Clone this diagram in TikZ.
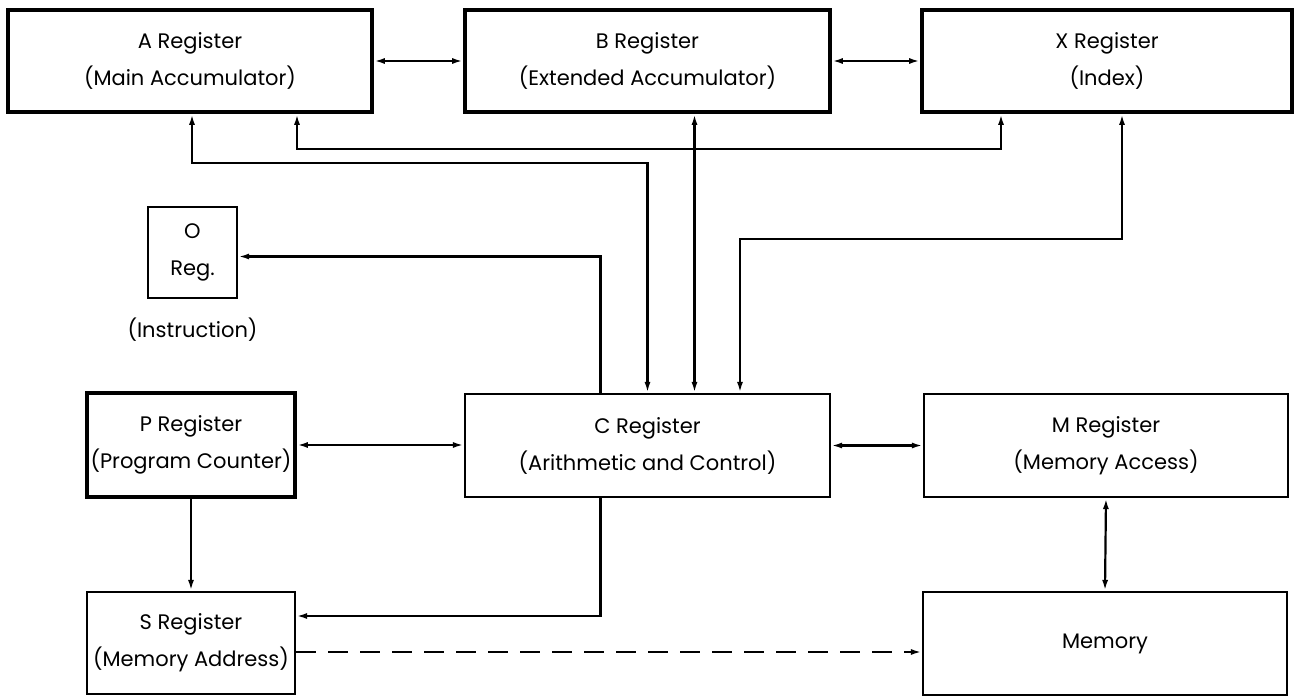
\documentclass[tikz,border=0pt]{standalone}
\usepackage{fontspec}
\setmainfont{Poppins}
\usetikzlibrary{arrows.meta,positioning}

\begin{document}
\begin{tikzpicture}[x=0.5pt, y=-0.5pt, >={Latex[length=5.5pt,width=3pt]},
		every node/.style={align=center, font=\fontsize{10.5}{18.5}\selectfont},
		reg/.style={draw, line width=1.1pt, inner sep=0pt},
		big/.style={reg, line width=1.9pt},
		link/.style={line width=1.1pt} ]
	\useasboundingbox (0,0) rectangle (1298,696);
	% registers
	\node[big, minimum width=182pt, minimum height=51pt] (A) at (190,61) {A Register\\(Main Accumulator)};
	\node[big, minimum width=182.5pt, minimum height=51pt] (B) at (647.5,61) {B Register\\(Extended Accumulator)};
	\node[big, minimum width=185pt, minimum height=51pt] (X) at (1107,61) {X Register\\(Index)};
	\node[reg, minimum width=44.5pt, minimum height=45.5pt] (O) at (192.5,252.5) {O\\Reg.};
	\node[below=6pt of O] (Oi) {(Instruction)};
	\node[big, minimum width=104pt, minimum height=52pt] (P) at (191,445) {P Register\\(Program Counter)};
	\node[reg, minimum width=182.5pt, minimum height=51.5pt] (C) at (647.5,445.5) {C Register\\(Arithmetic and Control)};
	\node[reg, minimum width=182pt, minimum height=51.5pt] (M) at (1106,445.5) {M Register\\(Memory Access)};
	\node[reg, minimum width=104pt, minimum height=51pt] (S) at (191,643) {S Register\\(Memory Address)};
	\node[reg, minimum width=182pt, minimum height=51.5pt] (Mem) at (1105,643.5) {Memory};
	% data paths
	\draw[link,<->] (A.east) -- (B.west);
	\draw[link,<->] (B.east) -- (X.west);
	\draw[link,<->] ([xshift=1pt]A.south) -- ++(0,49) -| (C.north);
	\draw[link,<->] ([xshift=53.5pt]A.south) -- ++(0,35) -| ([xshift=-53pt]X.south);
	\draw[link,<->] ([xshift=23.5pt]B.south) -- ([xshift=23.5pt]C.north);
	\draw[link,<->] ([xshift=7.5pt]X.south) -- ++(0,125) -| ([xshift=46.25pt]C.north);
	\draw[link,->] ([xshift=-23.5pt]C.north) |- ([yshift=-2pt]O.east);
	\draw[link,<->] (P.east) -- (P.east -| C.west);
	\draw[link,<->] (C.east) -- (C.east -| M.west);
	\draw[link,->] (P.south) -- (S.north);
	\draw[link,->] ([xshift=-23.5pt]C.south) |- ([yshift=13.5pt]S.east);
	\draw[link,->,dash pattern=on 10pt off 6pt] ([yshift=-4.5pt]S.east) -- ([yshift=-4.5pt]S.east -| Mem.west);
	\draw[link,<->] (M.south) -- (Mem.north);
\end{tikzpicture}
\end{document}
